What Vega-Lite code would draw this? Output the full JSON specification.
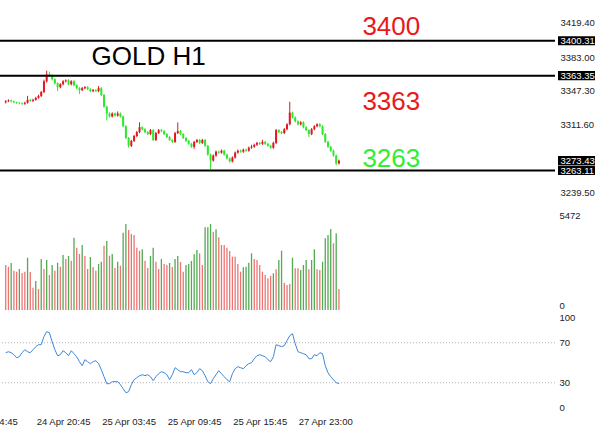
{
  "$schema": "https://vega.github.io/schema/vega-lite/v6.json",
  "width": 555,
  "height": 412,
  "autosize": {"type": "none"},
  "padding": {"left": 0, "top": 0, "right": 47, "bottom": 19},
  "background": "white",
  "config": {
    "view": {"stroke": null},
    "axis": {"labelFont": "Liberation Sans", "labelFontSize": 9.5, "labelColor": "#222", "domain": false, "ticks": false, "grid": false, "title": null, "labelOverlap": false, "labelFlush": false}
  },
  "datasets": {
    "bars": [
      {"i":0,"o":3335.1,"h":3337.5,"l":3334.0,"c":3336.2,"v":2462,"d":"r","r":60},
      {"i":1,"o":3336.2,"h":3338.3,"l":3335.4,"c":3337.2,"v":2369,"d":"r","r":61},
      {"i":2,"o":3337.2,"h":3338.0,"l":3335.0,"c":3336.2,"v":2572,"d":"g","r":60},
      {"i":3,"o":3336.2,"h":3336.9,"l":3334.2,"c":3335.1,"v":2150,"d":"r","r":58},
      {"i":4,"o":3335.1,"h":3336.0,"l":3333.5,"c":3334.6,"v":2096,"d":"r","r":55},
      {"i":5,"o":3334.6,"h":3335.4,"l":3333.0,"c":3334.1,"v":2244,"d":"g","r":56},
      {"i":6,"o":3334.1,"h":3335.0,"l":3332.4,"c":3333.6,"v":2025,"d":"r","r":60},
      {"i":7,"o":3333.6,"h":3335.8,"l":3332.5,"c":3334.6,"v":2096,"d":"r","r":63},
      {"i":8,"o":3334.6,"h":3342.0,"l":3333.8,"c":3337.7,"v":2862,"d":"g","r":61},
      {"i":9,"o":3337.7,"h":3338.9,"l":3335.6,"c":3336.7,"v":2079,"d":"r","r":60},
      {"i":10,"o":3336.7,"h":3339.0,"l":3335.5,"c":3337.7,"v":1220,"d":"r","r":63},
      {"i":11,"o":3337.7,"h":3341.0,"l":3336.8,"c":3339.8,"v":1587,"d":"g","r":66},
      {"i":12,"o":3339.8,"h":3343.2,"l":3338.9,"c":3341.9,"v":1149,"d":"r","r":68},
      {"i":13,"o":3341.9,"h":3347.3,"l":3340.8,"c":3346.0,"v":2791,"d":"g","r":68},
      {"i":14,"o":3346.0,"h":3359.0,"l":3344.9,"c":3357.4,"v":2244,"d":"r","r":76},
      {"i":15,"o":3357.4,"h":3368.7,"l":3356.0,"c":3364.6,"v":2736,"d":"g","r":81},
      {"i":16,"o":3364.6,"h":3367.7,"l":3362.3,"c":3363.6,"v":1915,"d":"r","r":80},
      {"i":17,"o":3363.6,"h":3364.8,"l":3358.3,"c":3359.5,"v":2462,"d":"g","r":71},
      {"i":18,"o":3359.5,"h":3360.6,"l":3354.1,"c":3355.3,"v":2150,"d":"r","r":63},
      {"i":19,"o":3355.3,"h":3356.4,"l":3347.0,"c":3351.2,"v":2588,"d":"g","r":57},
      {"i":20,"o":3351.2,"h":3355.4,"l":3350.0,"c":3354.3,"v":2369,"d":"r","r":58},
      {"i":21,"o":3354.3,"h":3358.6,"l":3353.1,"c":3357.4,"v":3010,"d":"g","r":62},
      {"i":22,"o":3357.4,"h":3359.5,"l":3356.2,"c":3358.4,"v":2791,"d":"r","r":60},
      {"i":23,"o":3358.4,"h":3359.6,"l":3353.1,"c":3354.3,"v":2955,"d":"g","r":57},
      {"i":24,"o":3354.3,"h":3358.5,"l":3353.0,"c":3357.4,"v":2698,"d":"r","r":62},
      {"i":25,"o":3357.4,"h":3358.6,"l":3352.0,"c":3353.2,"v":3956,"d":"g","r":59},
      {"i":26,"o":3353.2,"h":3354.4,"l":3349.0,"c":3350.1,"v":3409,"d":"r","r":56},
      {"i":27,"o":3350.1,"h":3351.2,"l":3344.0,"c":3348.1,"v":3064,"d":"r","r":51},
      {"i":28,"o":3348.1,"h":3351.3,"l":3347.0,"c":3350.1,"v":3557,"d":"g","r":47},
      {"i":29,"o":3350.1,"h":3352.4,"l":3349.0,"c":3351.2,"v":2955,"d":"r","r":53},
      {"i":30,"o":3351.2,"h":3352.3,"l":3348.0,"c":3349.1,"v":2244,"d":"r","r":51},
      {"i":31,"o":3349.1,"h":3350.2,"l":3345.9,"c":3347.0,"v":2900,"d":"g","r":49},
      {"i":32,"o":3347.0,"h":3349.3,"l":3345.8,"c":3348.1,"v":2353,"d":"r","r":51},
      {"i":33,"o":3348.1,"h":3349.0,"l":3346.0,"c":3347.0,"v":2150,"d":"r","r":52},
      {"i":34,"o":3347.0,"h":3352.3,"l":3345.9,"c":3350.1,"v":2517,"d":"g","r":49},
      {"i":35,"o":3350.1,"h":3351.2,"l":3341.8,"c":3342.9,"v":2643,"d":"g","r":43},
      {"i":36,"o":3342.9,"h":3344.0,"l":3329.4,"c":3330.5,"v":3518,"d":"r","r":36},
      {"i":37,"o":3330.5,"h":3331.6,"l":3316.0,"c":3323.3,"v":3776,"d":"g","r":29},
      {"i":38,"o":3323.3,"h":3324.4,"l":3319.0,"c":3320.2,"v":2971,"d":"r","r":29},
      {"i":39,"o":3320.2,"h":3324.5,"l":3319.1,"c":3323.3,"v":3064,"d":"g","r":31},
      {"i":40,"o":3323.3,"h":3324.3,"l":3320.0,"c":3321.2,"v":2298,"d":"r","r":31},
      {"i":41,"o":3321.2,"h":3325.5,"l":3320.0,"c":3323.3,"v":2643,"d":"g","r":31},
      {"i":42,"o":3323.3,"h":3324.4,"l":3319.0,"c":3320.2,"v":2424,"d":"r","r":28},
      {"i":43,"o":3320.2,"h":3321.3,"l":3308.6,"c":3309.8,"v":4230,"d":"g","r":24},
      {"i":44,"o":3309.8,"h":3310.9,"l":3296.2,"c":3297.4,"v":4706,"d":"g","r":20},
      {"i":45,"o":3297.4,"h":3298.5,"l":3287.1,"c":3289.1,"v":4378,"d":"r","r":21},
      {"i":46,"o":3289.1,"h":3295.5,"l":3287.8,"c":3294.3,"v":4159,"d":"r","r":28},
      {"i":47,"o":3294.3,"h":3300.6,"l":3293.1,"c":3299.5,"v":4104,"d":"r","r":33},
      {"i":48,"o":3299.5,"h":3304.8,"l":3298.3,"c":3303.6,"v":3409,"d":"r","r":35},
      {"i":49,"o":3303.6,"h":3314.0,"l":3302.4,"c":3308.8,"v":3245,"d":"r","r":37},
      {"i":50,"o":3308.8,"h":3309.9,"l":3305.5,"c":3306.7,"v":3322,"d":"g","r":38},
      {"i":51,"o":3306.7,"h":3307.8,"l":3302.5,"c":3303.6,"v":2698,"d":"r","r":37},
      {"i":52,"o":3303.6,"h":3304.7,"l":3300.3,"c":3301.5,"v":2298,"d":"r","r":38},
      {"i":53,"o":3301.5,"h":3306.9,"l":3300.4,"c":3305.7,"v":2955,"d":"g","r":36},
      {"i":54,"o":3305.7,"h":3306.8,"l":3294.1,"c":3295.3,"v":3409,"d":"g","r":32},
      {"i":55,"o":3295.3,"h":3303.8,"l":3294.2,"c":3302.6,"v":2643,"d":"r","r":36},
      {"i":56,"o":3302.6,"h":3306.9,"l":3301.5,"c":3305.7,"v":2244,"d":"r","r":39},
      {"i":57,"o":3305.7,"h":3306.8,"l":3303.5,"c":3304.7,"v":2791,"d":"g","r":41},
      {"i":58,"o":3304.7,"h":3305.8,"l":3300.4,"c":3301.5,"v":2517,"d":"r","r":40},
      {"i":59,"o":3301.5,"h":3302.6,"l":3297.3,"c":3298.4,"v":2462,"d":"r","r":38},
      {"i":60,"o":3298.4,"h":3299.6,"l":3294.2,"c":3295.3,"v":2572,"d":"g","r":33},
      {"i":61,"o":3295.3,"h":3296.4,"l":3292.1,"c":3293.3,"v":2353,"d":"r","r":38},
      {"i":62,"o":3293.3,"h":3303.8,"l":3292.2,"c":3302.6,"v":2791,"d":"g","r":45},
      {"i":63,"o":3302.6,"h":3314.0,"l":3301.5,"c":3304.7,"v":2955,"d":"g","r":43},
      {"i":64,"o":3304.7,"h":3305.9,"l":3300.3,"c":3301.5,"v":2627,"d":"r","r":41},
      {"i":65,"o":3301.5,"h":3302.6,"l":3296.3,"c":3297.4,"v":2096,"d":"r","r":41},
      {"i":66,"o":3297.4,"h":3298.5,"l":3293.2,"c":3294.3,"v":2462,"d":"g","r":40},
      {"i":67,"o":3294.3,"h":3295.4,"l":3290.1,"c":3291.2,"v":2517,"d":"g","r":40},
      {"i":68,"o":3291.2,"h":3292.3,"l":3287.0,"c":3288.1,"v":2681,"d":"g","r":43},
      {"i":69,"o":3288.1,"h":3294.4,"l":3286.0,"c":3293.3,"v":3048,"d":"g","r":38},
      {"i":70,"o":3293.3,"h":3296.4,"l":3292.1,"c":3295.3,"v":3283,"d":"g","r":40},
      {"i":71,"o":3295.3,"h":3296.4,"l":3291.0,"c":3292.2,"v":3103,"d":"r","r":44},
      {"i":72,"o":3292.2,"h":3296.5,"l":3291.1,"c":3295.3,"v":2462,"d":"r","r":42},
      {"i":73,"o":3295.3,"h":3296.4,"l":3288.0,"c":3289.1,"v":4525,"d":"g","r":37},
      {"i":74,"o":3289.1,"h":3290.2,"l":3278.6,"c":3279.8,"v":4525,"d":"g","r":31},
      {"i":75,"o":3279.8,"h":3281.0,"l":3264.3,"c":3273.6,"v":4706,"d":"g","r":29},
      {"i":76,"o":3273.6,"h":3280.0,"l":3272.4,"c":3278.8,"v":4285,"d":"r","r":34},
      {"i":77,"o":3278.8,"h":3284.1,"l":3277.6,"c":3282.9,"v":4416,"d":"g","r":38},
      {"i":78,"o":3282.9,"h":3284.0,"l":3280.7,"c":3281.9,"v":3978,"d":"r","r":42},
      {"i":79,"o":3281.9,"h":3285.2,"l":3280.8,"c":3284.0,"v":3557,"d":"r","r":39},
      {"i":80,"o":3284.0,"h":3285.1,"l":3278.7,"c":3279.8,"v":3557,"d":"r","r":36},
      {"i":81,"o":3279.8,"h":3280.9,"l":3274.5,"c":3275.7,"v":3409,"d":"r","r":33},
      {"i":82,"o":3275.7,"h":3276.8,"l":3271.4,"c":3272.6,"v":3228,"d":"r","r":31},
      {"i":83,"o":3272.6,"h":3277.9,"l":3271.5,"c":3276.7,"v":2917,"d":"r","r":39},
      {"i":84,"o":3276.7,"h":3283.1,"l":3275.6,"c":3281.9,"v":2917,"d":"r","r":44},
      {"i":85,"o":3281.9,"h":3285.2,"l":3280.8,"c":3284.0,"v":2517,"d":"r","r":46},
      {"i":86,"o":3284.0,"h":3285.1,"l":3281.8,"c":3282.9,"v":2096,"d":"r","r":45},
      {"i":87,"o":3282.9,"h":3286.2,"l":3281.7,"c":3285.0,"v":2337,"d":"g","r":44},
      {"i":88,"o":3285.0,"h":3286.1,"l":3282.8,"c":3284.0,"v":2369,"d":"g","r":47},
      {"i":89,"o":3284.0,"h":3288.3,"l":3282.9,"c":3287.1,"v":2588,"d":"g","r":49},
      {"i":90,"o":3287.1,"h":3290.2,"l":3286.0,"c":3288.1,"v":3103,"d":"g","r":50},
      {"i":91,"o":3288.1,"h":3291.4,"l":3287.0,"c":3290.2,"v":2791,"d":"r","r":54},
      {"i":92,"o":3290.2,"h":3293.4,"l":3289.0,"c":3292.2,"v":2736,"d":"r","r":57},
      {"i":93,"o":3292.2,"h":3293.3,"l":3290.0,"c":3291.2,"v":2462,"d":"r","r":58},
      {"i":94,"o":3291.2,"h":3295.5,"l":3290.1,"c":3293.3,"v":2096,"d":"r","r":57},
      {"i":95,"o":3293.3,"h":3294.4,"l":3290.0,"c":3291.2,"v":1915,"d":"r","r":56},
      {"i":96,"o":3291.2,"h":3292.3,"l":3288.0,"c":3289.1,"v":1735,"d":"r","r":53},
      {"i":97,"o":3289.1,"h":3290.2,"l":3286.0,"c":3287.1,"v":1860,"d":"r","r":51},
      {"i":98,"o":3287.1,"h":3293.4,"l":3286.0,"c":3292.2,"v":2008,"d":"g","r":56},
      {"i":99,"o":3292.2,"h":3306.9,"l":3291.0,"c":3305.7,"v":2227,"d":"r","r":68},
      {"i":100,"o":3305.7,"h":3306.8,"l":3302.4,"c":3303.6,"v":2736,"d":"g","r":67},
      {"i":101,"o":3303.6,"h":3304.7,"l":3301.4,"c":3302.6,"v":3245,"d":"g","r":66},
      {"i":102,"o":3302.6,"h":3307.9,"l":3301.5,"c":3306.7,"v":1494,"d":"r","r":67},
      {"i":103,"o":3306.7,"h":3313.0,"l":3305.6,"c":3311.9,"v":1368,"d":"r","r":72},
      {"i":104,"o":3311.9,"h":3335.7,"l":3310.8,"c":3324.3,"v":1423,"d":"r","r":77},
      {"i":105,"o":3324.3,"h":3325.4,"l":3318.0,"c":3319.1,"v":2862,"d":"g","r":79},
      {"i":106,"o":3319.1,"h":3320.2,"l":3313.9,"c":3315.0,"v":2282,"d":"r","r":69},
      {"i":107,"o":3315.0,"h":3316.1,"l":3310.8,"c":3311.9,"v":2282,"d":"r","r":61},
      {"i":108,"o":3311.9,"h":3315.1,"l":3310.7,"c":3314.0,"v":2189,"d":"g","r":60},
      {"i":109,"o":3314.0,"h":3315.1,"l":3307.6,"c":3308.8,"v":2462,"d":"g","r":59},
      {"i":110,"o":3308.8,"h":3309.9,"l":3304.5,"c":3305.7,"v":2736,"d":"g","r":58},
      {"i":111,"o":3305.7,"h":3306.8,"l":3298.4,"c":3301.5,"v":2227,"d":"r","r":54},
      {"i":112,"o":3301.5,"h":3307.9,"l":3300.4,"c":3306.7,"v":2736,"d":"g","r":54},
      {"i":113,"o":3306.7,"h":3311.0,"l":3305.6,"c":3309.8,"v":3322,"d":"g","r":58},
      {"i":114,"o":3309.8,"h":3313.0,"l":3308.7,"c":3311.9,"v":2227,"d":"r","r":57},
      {"i":115,"o":3311.9,"h":3313.1,"l":3308.7,"c":3309.8,"v":2189,"d":"r","r":60},
      {"i":116,"o":3309.8,"h":3311.0,"l":3300.4,"c":3301.5,"v":2643,"d":"g","r":59},
      {"i":117,"o":3301.5,"h":3302.6,"l":3292.1,"c":3293.3,"v":3923,"d":"g","r":47},
      {"i":118,"o":3293.3,"h":3294.4,"l":3287.0,"c":3288.1,"v":4104,"d":"g","r":40},
      {"i":119,"o":3288.1,"h":3289.2,"l":3282.8,"c":3284.0,"v":4432,"d":"g","r":36},
      {"i":120,"o":3284.0,"h":3285.1,"l":3277.6,"c":3278.8,"v":3650,"d":"r","r":33},
      {"i":121,"o":3278.8,"h":3279.9,"l":3268.4,"c":3270.5,"v":4197,"d":"g","r":30},
      {"i":122,"o":3270.5,"h":3274.6,"l":3269.3,"c":3273.43,"v":1149,"d":"r","r":29}
    ],
    "levels": [{"p": 3400.31}, {"p": 3363.35}, {"p": 3263.11}],
    "tags": [{"p": 3400.31}, {"p": 3363.35}, {"p": 3273.43}, {"p": 3263.11}],
    "redNotes": [{"i": 130.6, "p": 3406.4, "t": "3400"}, {"i": 130.6, "p": 3327.0, "t": "3363"}],
    "greenNotes": [{"i": 130.6, "p": 3266.7, "t": "3263"}],
    "title": [{"i": 31.4, "p": 3374.6, "t": "GOLD H1"}],
    "rsiLevels": [{"r": 30}, {"r": 70}]
  },
  "layer": [
    {
      "layer": [
        {
          "data": {"name": "bars"},
          "mark": {"type": "rule", "strokeWidth": 1},
          "encoding": {
            "x": {"field": "i", "type": "quantitative", "scale": {"domain": [-6, 199.28], "range": [-15.68, 555], "zero": false, "nice": false},
              "axis": {"orient": "bottom", "values": [-5.6, 21, 45, 69, 93, 117], "labelPadding": 4, "labelBound": false, "labelExpr": "datum.value < 0 ? '24 Apr 14:45' : datum.value == 21 ? '24 Apr 20:45' : datum.value == 45 ? '25 Apr 03:45' : datum.value == 69 ? '25 Apr 09:45' : datum.value == 93 ? '25 Apr 15:45' : '27 Apr 23:00'"}},
            "y": {"field": "l", "type": "quantitative", "scale": {"domain": [3226.49, 3443.42], "range": [205, 0], "zero": false, "nice": false},
              "axis": {"orient": "right", "values": [3419.40, 3400.31, 3383.00, 3363.35, 3347.30, 3311.60, 3273.43, 3263.11, 3239.50], "format": ".2f", "labelPadding": 5, "zindex": 1, "labelColor": {"condition": {"test": "datum.value == 3400.31 || datum.value == 3363.35 || datum.value == 3273.43 || datum.value == 3263.11", "value": "#ffffff"}, "value": "#222222"}}},
            "y2": {"field": "h"},
            "color": {"condition": {"test": "datum.c > datum.o", "value": "#e3161d"}, "value": "#2fe62f"}
          }
        },
        {
          "data": {"name": "bars"},
          "mark": {"type": "bar", "size": 2, "orient": "vertical"},
          "encoding": {
            "x": {"field": "i", "type": "quantitative", "scale": {"domain": [-6, 199.28], "range": [-15.68, 555], "zero": false, "nice": false},
              "axis": {"orient": "bottom", "values": [-5.6, 21, 45, 69, 93, 117], "labelPadding": 4, "labelBound": false, "labelExpr": "datum.value < 0 ? '24 Apr 14:45' : datum.value == 21 ? '24 Apr 20:45' : datum.value == 45 ? '25 Apr 03:45' : datum.value == 69 ? '25 Apr 09:45' : datum.value == 93 ? '25 Apr 15:45' : '27 Apr 23:00'"}},
            "y": {"field": "o", "type": "quantitative", "scale": {"domain": [3226.49, 3443.42], "range": [205, 0], "zero": false, "nice": false},
              "axis": {"orient": "right", "values": [3419.40, 3400.31, 3383.00, 3363.35, 3347.30, 3311.60, 3273.43, 3263.11, 3239.50], "format": ".2f", "labelPadding": 5, "zindex": 1, "labelColor": {"condition": {"test": "datum.value == 3400.31 || datum.value == 3363.35 || datum.value == 3273.43 || datum.value == 3263.11", "value": "#ffffff"}, "value": "#222222"}}},
            "y2": {"field": "c"},
            "color": {"condition": {"test": "datum.c > datum.o", "value": "#e3161d"}, "value": "#2fe62f"}
          }
        },
        {
          "data": {"name": "levels"},
          "mark": {"type": "rule", "strokeWidth": 2, "color": "#000000"},
          "encoding": {
            "y": {"field": "p", "type": "quantitative", "scale": {"domain": [3226.49, 3443.42], "range": [205, 0], "zero": false, "nice": false},
              "axis": {"orient": "right", "values": [3419.40, 3400.31, 3383.00, 3363.35, 3347.30, 3311.60, 3273.43, 3263.11, 3239.50], "format": ".2f", "labelPadding": 5, "zindex": 1, "labelColor": {"condition": {"test": "datum.value == 3400.31 || datum.value == 3363.35 || datum.value == 3273.43 || datum.value == 3263.11", "value": "#ffffff"}, "value": "#222222"}}}
          }
        },
        {
          "data": {"name": "tags"},
          "mark": {"type": "point", "shape": "M0.15,-0.23H2V0.23H0.15Z", "size": 1600, "filled": true, "color": "#000000", "opacity": 1, "strokeWidth": 0},
          "encoding": {
            "x": {"value": "width"},
            "y": {"field": "p", "type": "quantitative", "scale": {"domain": [3226.49, 3443.42], "range": [205, 0], "zero": false, "nice": false},
              "axis": {"orient": "right", "values": [3419.40, 3400.31, 3383.00, 3363.35, 3347.30, 3311.60, 3273.43, 3263.11, 3239.50], "format": ".2f", "labelPadding": 5, "zindex": 1, "labelColor": {"condition": {"test": "datum.value == 3400.31 || datum.value == 3363.35 || datum.value == 3273.43 || datum.value == 3263.11", "value": "#ffffff"}, "value": "#222222"}}}
          }
        },
        {
          "data": {"name": "redNotes"},
          "mark": {"type": "text", "align": "left", "baseline": "alphabetic", "font": "Liberation Sans", "fontSize": 26, "color": "#e81a1a"},
          "encoding": {
            "x": {"field": "i", "type": "quantitative", "scale": {"domain": [-6, 199.28], "range": [-15.68, 555], "zero": false, "nice": false},
              "axis": {"orient": "bottom", "values": [-5.6, 21, 45, 69, 93, 117], "labelPadding": 4, "labelBound": false, "labelExpr": "datum.value < 0 ? '24 Apr 14:45' : datum.value == 21 ? '24 Apr 20:45' : datum.value == 45 ? '25 Apr 03:45' : datum.value == 69 ? '25 Apr 09:45' : datum.value == 93 ? '25 Apr 15:45' : '27 Apr 23:00'"}},
            "y": {"field": "p", "type": "quantitative", "scale": {"domain": [3226.49, 3443.42], "range": [205, 0], "zero": false, "nice": false},
              "axis": {"orient": "right", "values": [3419.40, 3400.31, 3383.00, 3363.35, 3347.30, 3311.60, 3273.43, 3263.11, 3239.50], "format": ".2f", "labelPadding": 5, "zindex": 1, "labelColor": {"condition": {"test": "datum.value == 3400.31 || datum.value == 3363.35 || datum.value == 3273.43 || datum.value == 3263.11", "value": "#ffffff"}, "value": "#222222"}}},
            "text": {"field": "t"}
          }
        },
        {
          "data": {"name": "greenNotes"},
          "mark": {"type": "text", "align": "left", "baseline": "alphabetic", "font": "Liberation Sans", "fontSize": 26, "color": "#33ee33"},
          "encoding": {
            "x": {"field": "i", "type": "quantitative", "scale": {"domain": [-6, 199.28], "range": [-15.68, 555], "zero": false, "nice": false},
              "axis": {"orient": "bottom", "values": [-5.6, 21, 45, 69, 93, 117], "labelPadding": 4, "labelBound": false, "labelExpr": "datum.value < 0 ? '24 Apr 14:45' : datum.value == 21 ? '24 Apr 20:45' : datum.value == 45 ? '25 Apr 03:45' : datum.value == 69 ? '25 Apr 09:45' : datum.value == 93 ? '25 Apr 15:45' : '27 Apr 23:00'"}},
            "y": {"field": "p", "type": "quantitative", "scale": {"domain": [3226.49, 3443.42], "range": [205, 0], "zero": false, "nice": false},
              "axis": {"orient": "right", "values": [3419.40, 3400.31, 3383.00, 3363.35, 3347.30, 3311.60, 3273.43, 3263.11, 3239.50], "format": ".2f", "labelPadding": 5, "zindex": 1, "labelColor": {"condition": {"test": "datum.value == 3400.31 || datum.value == 3363.35 || datum.value == 3273.43 || datum.value == 3263.11", "value": "#ffffff"}, "value": "#222222"}}},
            "text": {"field": "t"}
          }
        },
        {
          "data": {"name": "title"},
          "mark": {"type": "text", "align": "left", "baseline": "alphabetic", "font": "Liberation Sans", "fontSize": 26, "color": "#000000"},
          "encoding": {
            "x": {"field": "i", "type": "quantitative", "scale": {"domain": [-6, 199.28], "range": [-15.68, 555], "zero": false, "nice": false},
              "axis": {"orient": "bottom", "values": [-5.6, 21, 45, 69, 93, 117], "labelPadding": 4, "labelBound": false, "labelExpr": "datum.value < 0 ? '24 Apr 14:45' : datum.value == 21 ? '24 Apr 20:45' : datum.value == 45 ? '25 Apr 03:45' : datum.value == 69 ? '25 Apr 09:45' : datum.value == 93 ? '25 Apr 15:45' : '27 Apr 23:00'"}},
            "y": {"field": "p", "type": "quantitative", "scale": {"domain": [3226.49, 3443.42], "range": [205, 0], "zero": false, "nice": false},
              "axis": {"orient": "right", "values": [3419.40, 3400.31, 3383.00, 3363.35, 3347.30, 3311.60, 3273.43, 3263.11, 3239.50], "format": ".2f", "labelPadding": 5, "zindex": 1, "labelColor": {"condition": {"test": "datum.value == 3400.31 || datum.value == 3363.35 || datum.value == 3273.43 || datum.value == 3263.11", "value": "#ffffff"}, "value": "#222222"}}},
            "text": {"field": "t"}
          }
        }
      ]
    },
    {
      "layer": [
        {
          "data": {"name": "bars"},
          "mark": {"type": "bar", "size": 1.3, "orient": "vertical"},
          "encoding": {
            "x": {"field": "i", "type": "quantitative", "scale": {"domain": [-6, 199.28], "range": [-15.68, 555], "zero": false, "nice": false},
              "axis": {"orient": "bottom", "values": [-5.6, 21, 45, 69, 93, 117], "labelPadding": 4, "labelBound": false, "labelExpr": "datum.value < 0 ? '24 Apr 14:45' : datum.value == 21 ? '24 Apr 20:45' : datum.value == 45 ? '25 Apr 03:45' : datum.value == 69 ? '25 Apr 09:45' : datum.value == 93 ? '25 Apr 15:45' : '27 Apr 23:00'"}},
            "y": {"field": "v", "type": "quantitative", "scale": {"domain": [0, 5472], "range": [310, 210], "nice": false},
              "axis": {"orient": "right", "values": [0, 5472], "format": "d", "labelPadding": 4, "labelBaseline": {"condition": {"test": "datum.value == 0", "value": "bottom"}, "value": "top"}}},
            "y2": {"datum": 0},
            "color": {"condition": {"test": "datum.d == 'g'", "value": "#52aa52"}, "value": "#ee7474"}
          }
        }
      ]
    },
    {
      "layer": [
        {
          "data": {"name": "rsiLevels"},
          "mark": {"type": "rule", "strokeWidth": 1, "strokeDash": [1, 2], "color": "#b5b5b5"},
          "encoding": {
            "y": {"field": "r", "type": "quantitative", "scale": {"domain": [0, 100], "range": [412.7, 312.7], "zero": false, "nice": false},
              "axis": {"orient": "right", "values": [0, 30, 70, 100], "labelPadding": 4, "labelBaseline": {"condition": {"test": "datum.value == 100", "value": "top"}, "value": "middle"}, "labelOffset": {"condition": {"test": "datum.value == 0", "value": -5}, "value": 0}}}
          }
        },
        {
          "data": {"name": "bars"},
          "mark": {"type": "line", "strokeWidth": 1, "color": "#3f86d6"},
          "encoding": {
            "x": {"field": "i", "type": "quantitative", "scale": {"domain": [-6, 199.28], "range": [-15.68, 555], "zero": false, "nice": false},
              "axis": {"orient": "bottom", "values": [-5.6, 21, 45, 69, 93, 117], "labelPadding": 4, "labelBound": false, "labelExpr": "datum.value < 0 ? '24 Apr 14:45' : datum.value == 21 ? '24 Apr 20:45' : datum.value == 45 ? '25 Apr 03:45' : datum.value == 69 ? '25 Apr 09:45' : datum.value == 93 ? '25 Apr 15:45' : '27 Apr 23:00'"}},
            "y": {"field": "r", "type": "quantitative", "scale": {"domain": [0, 100], "range": [412.7, 312.7], "zero": false, "nice": false},
              "axis": {"orient": "right", "values": [0, 30, 70, 100], "labelPadding": 4, "labelBaseline": {"condition": {"test": "datum.value == 100", "value": "top"}, "value": "middle"}, "labelOffset": {"condition": {"test": "datum.value == 0", "value": -5}, "value": 0}}}
          }
        }
      ]
    }
  ],
  "resolve": {"scale": {"y": "independent"}}
}
